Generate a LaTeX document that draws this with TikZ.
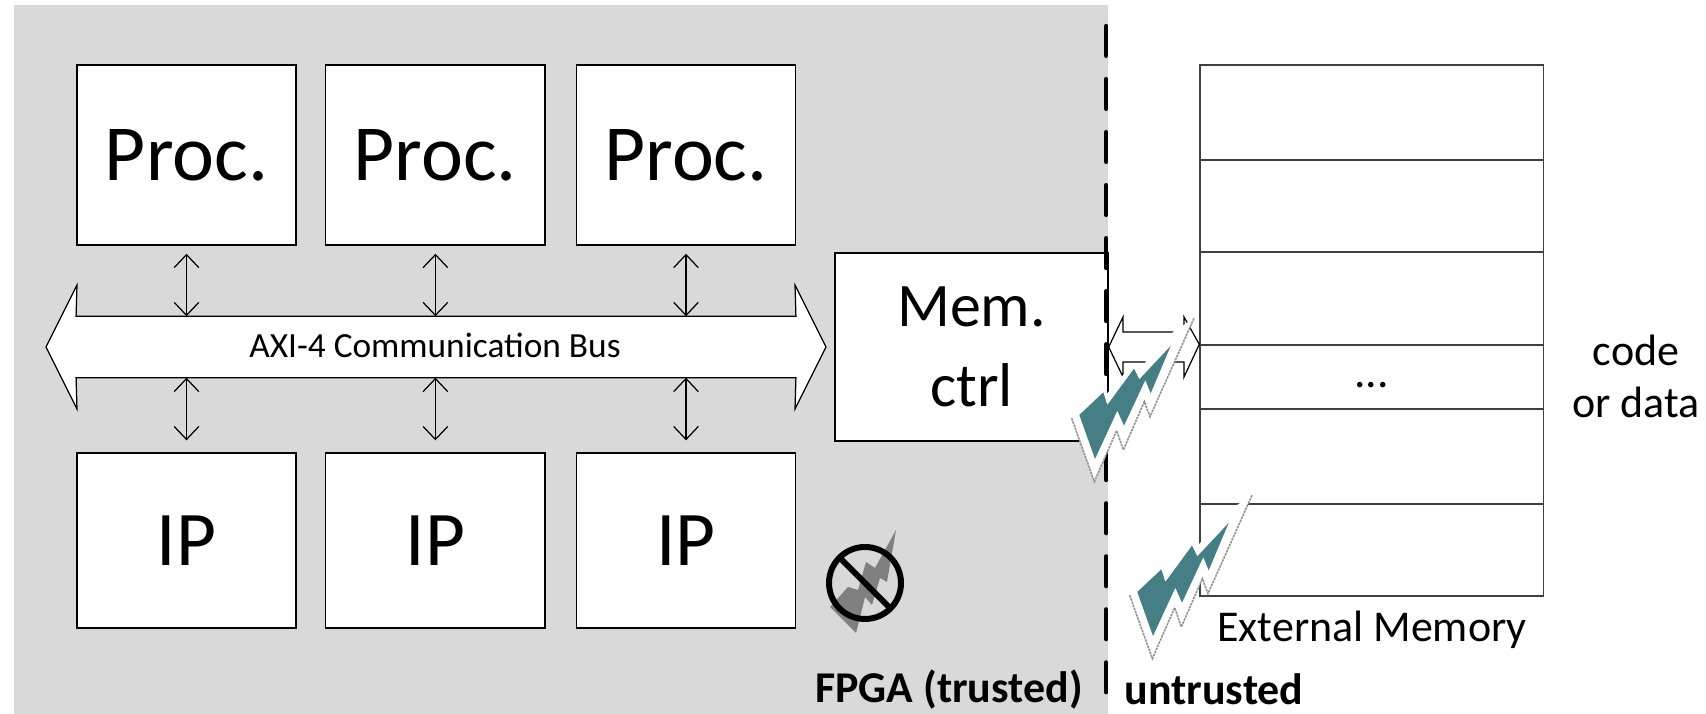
\documentclass[tikz,border=0pt]{standalone}
\usepackage{fontspec}
\setmainfont{Carlito}
\usetikzlibrary{arrows.meta}
\definecolor{fpgagray}{HTML}{D9D9D9}
\definecolor{boltteal}{HTML}{467E85}
\tikzset{
  box/.style={draw=black,fill=white,line width=0.35pt,inner sep=0pt,minimum width=2.19cm},
  procbox/.style={box,minimum height=1.8cm,font=\fontsize{22.6}{24}\selectfont},
  ipbox/.style={box,minimum height=1.75cm,font=\fontsize{22}{24}\selectfont},
  memrow/.style={draw=black!75,fill=white,line width=0.35pt,inner sep=0pt,minimum width=3.43cm,font=\fontsize{13}{13}\selectfont},
  link/.style={{Straight Barb[length=3.7pt,width=7pt]}-{Straight Barb[length=3.7pt,width=7pt]},line width=0.35pt},
  hollow/.style={draw=black,fill=white,line width=0.35pt,line join=miter},
  label/.style={inner sep=0pt,font=\fontsize{12.5}{14.6}\selectfont},
  boldlabel/.style={inner sep=0pt,font=\fontsize{12.5}{14.6}\selectfont\bfseries},
  bolt/.pic={
    \fill[white] (95,415) -- (185,322) -- (197,345) -- (280,250) -- (297,268) -- (400,155) -- (462,115)
      -- (330,410) -- (313,365) -- (250,510) -- (230,452) -- (163,605) -- cycle;
    \draw[gray!85,line width=0.45pt,dash pattern=on 0.7pt off 0.25pt] (95,415) -- (163,605) -- (230,452) -- (250,510)
      -- (313,365) -- (330,410) -- (462,115);
    \fill[boltteal] (118,405) -- (190,337) -- (202,375) -- (282,266) -- (298,298) -- (392,198)
      -- (332,340) -- (316,300) -- (252,437) -- (232,392) -- (165,537) -- cycle;
  }
}
\begin{document}
\begin{tikzpicture}[x=0.01cm,y=-0.01cm]
  \useasboundingbox (0,0) rectangle (1706,713.5);
  \fill[fpgagray] (14,5) rectangle (1108,715);
  % processors and IP blocks
  \node[procbox] (proc1) at (186.5,155) {Proc.};
  \node[procbox] (proc2) at (435.4,155) {Proc.};
  \node[procbox] (proc3) at (686,155) {Proc.};
  \node[ipbox] (ip1) at (186.5,540.5) {IP};
  \node[ipbox] (ip2) at (435.4,540.5) {IP};
  \node[ipbox] (ip3) at (686,540.5) {IP};
  \node[box,minimum width=2.73cm,minimum height=1.88cm,align=center,font=\fontsize{17.6}{21.8}\selectfont] (mem) at (971.5,347) {\raisebox{1pt}{Mem.}\\ctrl};
  % bus
  \node[inner sep=0pt,minimum width=7.18cm,minimum height=0.6cm] (bus) at (436,347) {};
  \draw[hollow] (46,347) -- (77,285) -- (bus.north west) -- (bus.north east) -- (795,285) -- (826,347)
    -- (795,409) -- (bus.south east) -- (bus.south west) -- (77,409) -- cycle;
  \node[label,font=\fontsize{10.05}{10.05}\selectfont] (buslabel) at (435,345) {AXI-4 Communication Bus};
  \begin{scope}[link]
    \draw[shorten <=2.3pt] (proc1.south) to (proc1.south |- bus.north);
    \draw[shorten <=2.3pt] (proc2.south) to (proc2.south |- bus.north);
    \draw[shorten <=2.3pt] (proc3.south) to (proc3.south |- bus.north);
    \draw[shorten >=3.4pt] (proc1.south |- bus.south) to (ip1.north);
    \draw[shorten >=3.4pt] (proc2.south |- bus.south) to (ip2.north);
    \draw[shorten >=3.4pt] (proc3.south |- bus.south) to (ip3.north);
  \end{scope}
  % external memory
  \node[memrow,minimum height=0.95cm] (row1) at (1371.5,112.5) {};
  \node[memrow,minimum height=0.92cm] (row2) at (1371.5,206) {};
  \node[memrow,minimum height=0.93cm] (row3) at (1371.5,298.5) {};
  \node[memrow,minimum height=0.64cm] (row4) at (1371.5,377) {\raisebox{-0.21cm}{...}};
  \node[memrow,minimum height=0.95cm] (row5) at (1371.5,456.5) {};
  \node[memrow,minimum height=0.92cm] (row6) at (1371.5,550) {};
  % trust boundary
  \draw[line width=1.2pt,line cap=round,dash pattern=on 8.5pt off 6.58pt] (1106.3,26) -- (1106.3,700);
  % link from controller to memory
  \draw[hollow] (mem.east) -- (1123,317) -- (1123,332) -- (1184,332) -- (1184,317) -- (row4.north west)
    -- (1184,377) -- (1184,362) -- (1123,362) -- (1123,377) -- cycle;
  % attacks
  \pic[scale=0.3333] at (1040,280) {bolt};
  \pic[scale=0.3333] at (1098,457) {bolt};
  \fill[gray] (830,607) -- (848,587) -- (858,590) -- (866,562) -- (875,568) -- (896,530)
    -- (887,582) -- (880,578) -- (872,605) -- (865,597) -- (856,633) -- cycle;
  \draw[line width=1.7pt] (865,583) circle (36);
  \draw[line width=1.7pt] (840,558) -- (890,608);
  % labels
  \node[label] (extlabel) at (1372,630) {External Memory};
  \node[label,align=center] (codelabel) at (1636,376.5) {code\\or data};
  \node[boldlabel] (fpgalabel) at (949,690) {FPGA (trusted)};
  \node[boldlabel] (untrustedlabel) at (1214,689) {untrusted};
\end{tikzpicture}
\end{document}
